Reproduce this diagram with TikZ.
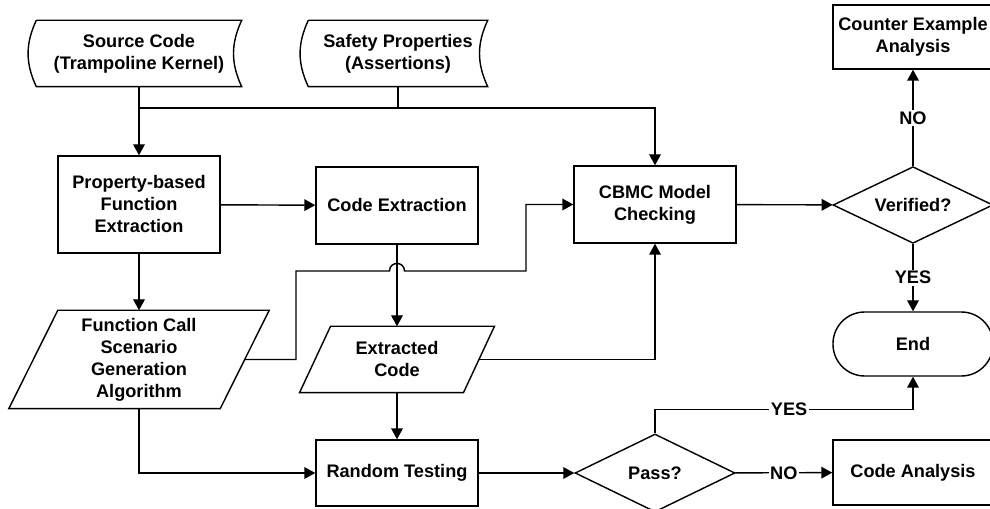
\documentclass[tikz,border=0pt]{standalone}
\usepackage{fontspec}
\setmainfont{Liberation Sans}
\usetikzlibrary{arrows.meta,shapes.geometric}

\begin{document}
\begin{tikzpicture}[x=0.6pt, y=-0.6pt, line width=0.85pt,
  font=\bfseries\fontsize{10.9}{13.2}\selectfont, >={Triangle[length=6.6pt,width=7pt]},
  proc/.style={draw, rectangle, align=center, minimum width=97.2pt, inner sep=1pt},
  plain/.style={rectangle, align=center, inner sep=0pt},
  dec/.style={draw, diamond, aspect=2.1, inner sep=1pt, minimum width=96pt, minimum height=46pt},
  lbl/.style={fill=white, inner sep=1pt}]
	\useasboundingbox (0,0) rectangle (990,509);
	% inputs (stored data)
	\node[plain, minimum width=122.4pt, minimum height=39pt] (src) at (139,53.5) {Source Code\\(Trampoline Kernel)};
	\node[plain, minimum width=106.8pt, minimum height=39pt] (safe) at (398,53.5) {Safety Properties\\(Assertions)};
	\draw (src.north west) -- (src.north east) to[bend right=25] (src.south east) -- (src.south west) to[bend left=25] (src.north west);
	\draw (safe.north west) -- (safe.north east) to[bend right=25] (safe.south east) -- (safe.south west) to[bend left=25] (safe.north west);
	% process boxes
	\node[proc, minimum height=58.2pt] (pfe) at (139,204.5) {Property-based\\Function\\Extraction};
	\node[proc, minimum height=46.2pt] (cext) at (397,205.5) {Code Extraction};
	\node[proc, minimum height=46.2pt] (cbmc) at (655,204.5) {CBMC Model\\Checking};
	\node[proc, minimum height=39.6pt] (rt) at (397,473) {Random Testing};
	\node[proc, minimum width=96pt, minimum height=38.4pt] (cex) at (913,37) {Counter Example\\Analysis};
	\node[proc, minimum width=96pt, minimum height=39pt] (ca) at (913,472.5) {Code Analysis};
	\node[draw, rounded corners=19pt, minimum width=96pt, minimum height=38.4pt] (endn) at (913,344) {End};
	% decisions
	\node[dec] (verif) at (913,205) {Verified?};
	\node[dec, minimum height=46.8pt] (pass) at (655,473) {Pass?};
	% data (parallelograms)
	\node[plain, minimum width=126pt, minimum height=58.2pt] (fcs) at (139,359.5) {Function Call\\Scenario\\Generation\\Algorithm};
	\node[plain, minimum width=97.5pt, minimum height=39pt] (exc) at (397,359.5) {Extracted\\Code};
	\draw ([xshift=14.7pt]fcs.north west) -- ([xshift=14.7pt]fcs.north east) -- ([xshift=-14.7pt]fcs.south east) -- ([xshift=-14.7pt]fcs.south west) -- cycle;
	\draw ([xshift=9.3pt]exc.north west) -- ([xshift=9.3pt]exc.north east) -- ([xshift=-9.3pt]exc.south east) -- ([xshift=-9.3pt]exc.south west) -- cycle;
	% connectors
	\coordinate (j1) at (139,108);
	\coordinate (r1) at (296,271);
	\coordinate (r2) at (526,271);
	\draw[->] (src) -- (pfe);
	\draw (safe.south) -- (safe.south |- j1);
	\draw[->] (j1) -| (cbmc.north);
	\draw[->] (pfe) -- (cext);
	\draw[->] (pfe) -- (fcs);
	\draw[->] (fcs.south) |- (rt.west);
	\draw[->] (fcs.east) -| (r1) -- ([xshift=-4.5pt]cext.south |- r1) .. controls +(0,-10) and +(0,-10) .. ([xshift=4.5pt]cext.south |- r1) -- (r2) |- (cbmc.west);
	\draw[->] (cext) -- (exc);
	\draw[->] (exc.east) -| (cbmc.south);
	\draw[->] (exc) -- (rt);
	\draw[->] (rt) -- (pass);
	\draw[->] (pass) -- node[lbl] {NO} (ca);
	\draw[->] (pass.north) -- ++(0,-24) -| node[lbl, pos=0.26] {YES} (endn.south);
	\draw[->] (cbmc) -- (verif);
	\draw[->] (verif) -- node[lbl] {NO} (cex);
	\draw[->] (verif) -- node[lbl] {YES} (endn);
\end{tikzpicture}
\end{document}
